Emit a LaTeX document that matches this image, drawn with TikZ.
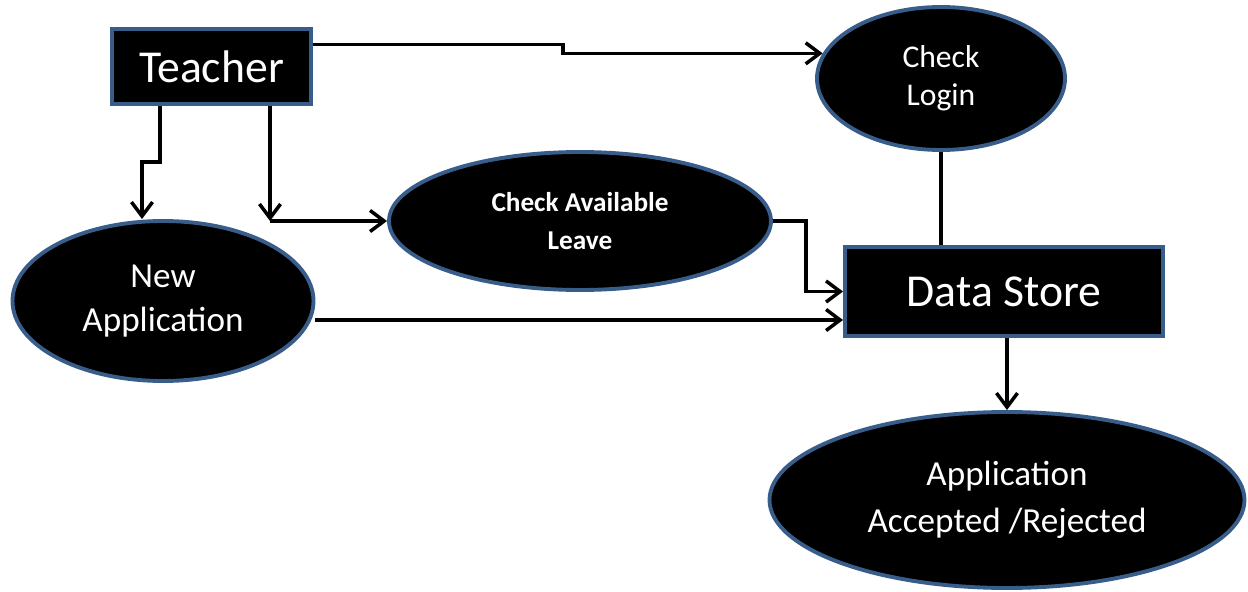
\documentclass[tikz,border=0pt]{standalone}
\usepackage{fontspec}
\setmainfont{Carlito}
\usetikzlibrary{positioning,shapes.geometric,arrows.meta}
\definecolor{outline}{HTML}{385D8A}

\begin{document}
\begin{tikzpicture}[
	flow/.style={line width=2pt, draw=black},
	arrow/.style={flow, -{Straight Barb[length=8pt, width=12pt]}}]

\tikzstyle{entity} = [
    rectangle,
    draw = outline, line width = 2.2pt,
    fill = black, text = white,
    inner sep = 0pt
]
\tikzstyle{process} = [
    ellipse,
    draw = outline, line width = 2.2pt,
    fill = black, text = white,
    align = center, inner sep = 0pt
]

\useasboundingbox (0,0) rectangle (24.96,-11.84);

\node [entity, minimum width=3.98cm, minimum height=1.5cm,
    font=\fontsize{26}{30}\selectfont] (teacher) at (4.23,-1.33) {Teacher};
\node [entity, minimum width=6.36cm, minimum height=1.78cm,
    font=\fontsize{26}{30}\selectfont] (store) at (20.08,-5.83) {Data Store};
\node [process, minimum width=4.96cm, minimum height=2.86cm,
    font=\fontsize{18}{21.5}\selectfont] (login) at (18.82,-1.57) {Check\\Login};
\node [process, minimum width=7.64cm, minimum height=2.76cm,
    font=\fontsize{15.5}{21.5}\selectfont\bfseries] (avail) at (11.6,-4.42) {Check Available\\Leave};
\node [process, minimum width=6.02cm, minimum height=3.2cm,
    font=\fontsize{20}{25}\selectfont] (newapp) at (3.26,-6.02) {New\\Application};
\node [process, minimum width=9.5cm, minimum height=3.52cm,
    font=\fontsize{20}{26.5}\selectfont] (result) at (20.14,-10.0) {Application\\Accepted /Rejected};

\coordinate (tb) at ([xshift=1.17cm]teacher.south);
\coordinate (bend) at (tb |- avail.west);
\coordinate (dsin) at ([yshift=-0.57cm]store.west);

\draw [arrow] ([yshift=0.44cm]teacher.east) -- ++(5cm,0) |- (login.168);
\draw [arrow] ([xshift=-1.03cm]teacher.south) -- ++(0,-1.12cm) -| ([xshift=-0.42cm]newapp.north);
\draw [arrow] (tb) -- (bend);
\draw [arrow] (bend) -- (avail.west);
\draw [arrow] (avail.east) -- ++(0.66cm,0) |- (store.west);
\draw [arrow] (newapp.east |- dsin) -- (dsin);
\draw [flow] (login.south) -- (login.south |- store.north);
\draw [arrow] (store.south -| result.north) -- (result.north);
\end{tikzpicture}
\end{document}
